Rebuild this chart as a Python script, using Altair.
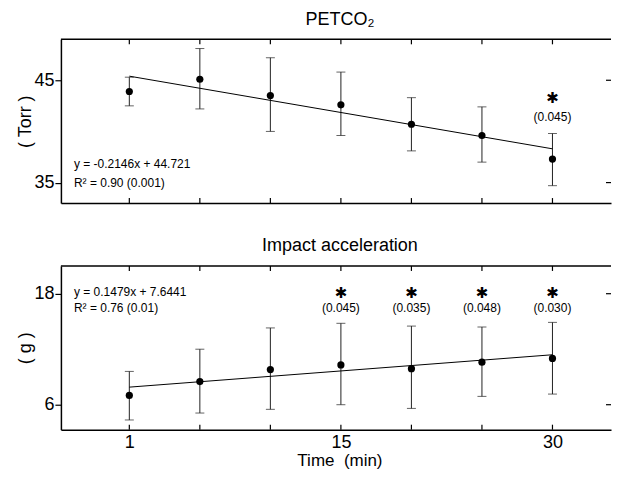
import altair as alt
import pandas as pd

FONT = "Liberation Sans"

# ---- data ----
idx = [1, 2, 3, 4, 5, 6, 7]              # equally spaced sample positions
tick_label_pos = [1, 4, 7]
tick_labels = ["1", "15", "30"]

petco2_mean = [43.9, 45.1, 43.5, 42.6, 40.7, 39.6, 37.3]
petco2_hi = [45.3, 48.1, 47.2, 45.8, 43.3, 42.4, 39.8]
petco2_lo = [42.5, 42.2, 40.0, 39.6, 38.1, 37.0, 34.7]
petco2_fit_x = [1, 7]
petco2_fit_y = [45.4, 38.3]
petco2_star_idx = [7]
petco2_star_y = [43.3]
petco2_p = ["(0.045)"]
petco2_p_y = [41.4]
petco2_eq = ["y = -0.2146x + 44.721", "R\u00b2 = 0.90 (0.001)"]
petco2_eq_y = [36.8, 35.0]

acc_mean = [7.0, 8.5, 9.8, 10.3, 9.9, 10.6, 11.0]
acc_hi = [9.6, 12.0, 14.3, 14.8, 14.5, 14.4, 14.9]
acc_lo = [4.35, 5.1, 5.5, 6.0, 5.6, 6.9, 7.15]
acc_fit_x = [1, 7]
acc_fit_y = [7.9, 11.4]
acc_star_idx = [4, 5, 6, 7]
acc_star_y = [18.1, 18.1, 18.1, 18.1]
acc_p = ["(0.045)", "(0.035)", "(0.048)", "(0.030)"]
acc_p_y = [16.5, 16.5, 16.5, 16.5]
acc_eq = ["y = 0.1479x + 7.6441", "R\u00b2 = 0.76 (0.01)"]
acc_eq_y = [18.2, 16.4]

eq_x = 0.215

W = 551
H = 164

xscale = alt.Scale(domain=[0.03, 7.83], nice=False, zero=False)

label_expr = " : ".join(
    [f"datum.value == {p} ? '{t}'" for p, t in zip(tick_label_pos, tick_labels)]
) + " : ''"


def panel(mean, lo, hi, fit_x, fit_y, star_idx, star_y, pvals, p_y, eq, eq_y,
          ydom, yticks, ytitle, title, show_x):
    main = pd.DataFrame({"idx": idx, "mean": mean, "lo": lo, "hi": hi})
    fit = pd.DataFrame({"idx": fit_x, "y": fit_y})
    ann = pd.DataFrame({"idx": star_idx, "star": star_y, "p": pvals, "py": p_y})
    eqd = pd.DataFrame({"x": [eq_x] * len(eq), "y": eq_y, "t": eq})
    ytd = pd.DataFrame({"v": yticks})

    yscale = alt.Scale(domain=ydom, nice=False, zero=False)

    if show_x:
        xaxis = alt.Axis(values=tick_label_pos, labelExpr=label_expr, ticks=False,
                         grid=False, domainColor="black", domainWidth=1.5,
                         labelFontSize=18, labelColor="black", labelPadding=4,
                         labelFont=FONT, title="Time\u00a0 (min)", titleFontSize=17,
                         titleFontWeight="normal", titleFont=FONT, titleColor="black",
                         titleX=279, titleAlign="center",
                         titleY=36, titleBaseline="alphabetic")
    else:
        xaxis = alt.Axis(labels=False, ticks=False, grid=False, domainColor="black",
                         domainWidth=1.5, title=None)

    yaxis = alt.Axis(values=yticks, grid=False, domainColor="black", domainWidth=1.5,
                     tickColor="black", tickSize=6, tickWidth=1.2, labelFontSize=18,
                     labelColor="black", labelPadding=1, labelFont=FONT,
                     title=ytitle, titleFontSize=18, titleFontWeight="normal",
                     titleFont=FONT, titleColor="black", titleX=-35,
                     titleBaseline="middle", titleAlign="center", titleAngle=270)

    xn = lambda f: alt.X(f, scale=xscale, axis=xaxis)
    yn = lambda f: alt.Y(f, scale=yscale, axis=yaxis)

    base = alt.Chart(main)
    err = base.mark_rule(color="#222", strokeWidth=1).encode(
        x=xn("idx:Q"), y=yn("lo:Q"), y2="hi:Q")
    cap_lo = base.mark_tick(orient="horizontal", size=9, thickness=1, color="#222").encode(
        x=xn("idx:Q"), y=yn("lo:Q"))
    cap_hi = base.mark_tick(orient="horizontal", size=9, thickness=1, color="#222").encode(
        x=xn("idx:Q"), y=yn("hi:Q"))
    pts = base.mark_circle(size=52, opacity=1, color="black").encode(
        x=xn("idx:Q"), y=yn("mean:Q"))
    line = alt.Chart(fit).mark_line(color="black", strokeWidth=1).encode(
        x=xn("idx:Q"), y=yn("y:Q"))

    tick_top = base.mark_rule(color="black", strokeWidth=1.2).encode(
        x=xn("idx:Q"), y=alt.value(0), y2=alt.value(5))
    tick_bot = base.mark_rule(color="black", strokeWidth=1.2).encode(
        x=xn("idx:Q"), y=alt.value(H), y2=alt.value(H - 5))
    tick_right = alt.Chart(ytd).mark_rule(color="black", strokeWidth=1.2).encode(
        x=alt.value(W - 5), x2=alt.value(W), y=yn("v:Q"))
    top_border = alt.Chart(alt.Data(values=[{"a": 1}])).mark_rule(
        color="black", strokeWidth=1.5).encode(
        x=alt.value(0), x2=alt.value(W), y=alt.value(0))

    stars = alt.Chart(ann).mark_text(text="\u2731", font="DejaVu Sans", fontSize=15,
                                     baseline="middle", color="black").encode(
        x=xn("idx:Q"), y=yn("star:Q"))
    ptxt = alt.Chart(ann).mark_text(font=FONT, fontSize=12, baseline="middle",
                                    color="black").encode(
        x=xn("idx:Q"), y=yn("py:Q"), text="p:N")
    eqt = alt.Chart(eqd).mark_text(font=FONT, fontSize=12, align="left",
                                   baseline="middle", color="black").encode(
        x=xn("x:Q"), y=yn("y:Q"), text="t:N")

    return alt.layer(err, cap_lo, cap_hi, line, pts, tick_top, tick_bot, tick_right,
                     top_border, stars, ptxt, eqt).properties(
        width=W, height=H,
        title=alt.TitleParams(text=title, fontSize=18, fontWeight="normal", font=FONT,
                              anchor="middle", offset=10, dx=4, color="black"),
    )


top = panel(petco2_mean, petco2_lo, petco2_hi, petco2_fit_x, petco2_fit_y,
            petco2_star_idx, petco2_star_y, petco2_p, petco2_p_y, petco2_eq, petco2_eq_y,
            [33, 49], [35, 45], "( Torr )", "PETCO\u2082", False)
bottom = panel(acc_mean, acc_lo, acc_hi, acc_fit_x, acc_fit_y,
               acc_star_idx, acc_star_y, acc_p, acc_p_y, acc_eq, acc_eq_y,
               [3.3, 21], [6, 18], "( g )", "Impact acceleration", True)

chart = alt.vconcat(top, bottom, spacing=33).properties(
    padding={"left": 9, "top": 2, "right": 0, "bottom": 0}
).configure(font=FONT).configure_view(strokeWidth=0)

chart.save("out.html", embed_options={"renderer": "svg", "actions": False})
